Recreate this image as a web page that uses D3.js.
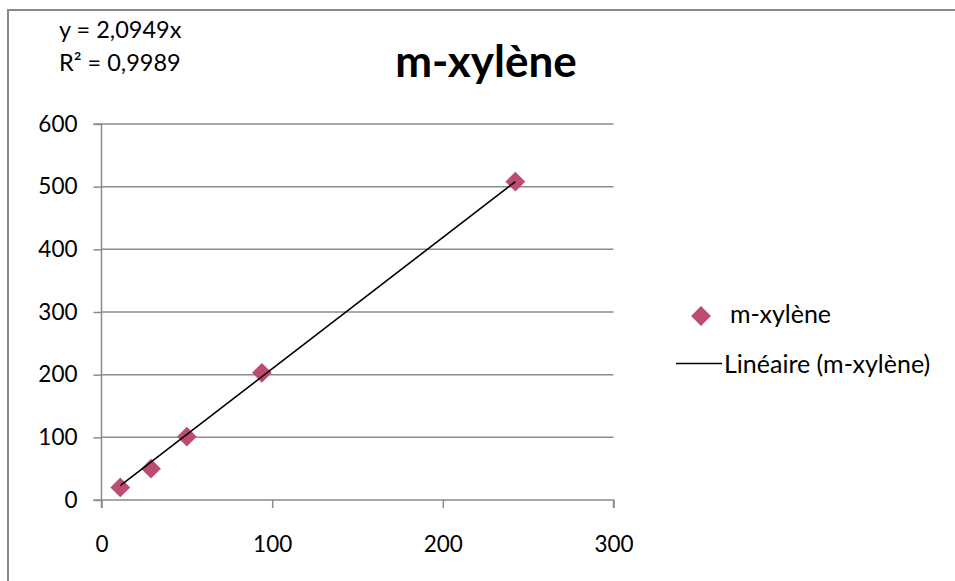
<!DOCTYPE html>
<html><head><meta charset="utf-8">
<script src="https://cdn.jsdelivr.net/npm/d3@7"></script>
<style>body{margin:0;background:#fff}svg{display:block}text{font-family:Lato,"Open Sans",sans-serif;fill:#000}</style>
</head><body><svg id="c" width="955" height="581"></svg>
<script>
const xValues = [11, 29, 50, 94, 242.5];
const yValues = [20, 50, 101, 203, 508];
const slope = 2.0949;
const xTicks = [0, 100, 200, 300];
const yTicks = [0, 100, 200, 300, 400, 500, 600];
const seriesName = "m-xylène";
const trendName = "Linéaire (m-xylène)";
const eqLines = ["y = 2,0949x", "R² = 0,9989"];

const svg = d3.select("#c");
svg.append("rect").attr("x",8).attr("y",10).attr("width",960).attr("height",600)
  .attr("fill","#fff").attr("stroke","#888").attr("stroke-width",2);

const x = d3.scaleLinear().domain([0,300]).range([101.5,613.5]);
const y = d3.scaleLinear().domain([0,600]).range([500,124]);

svg.append("g").selectAll("line").data(yTicks.filter(d=>d>0)).join("line")
  .attr("x1",x(0)).attr("x2",x(300)).attr("y1",d=>y(d)).attr("y2",d=>y(d))
  .attr("stroke","#8c8c8c").attr("stroke-width",1.5);

const fmt = d3.format("d");
const ya = svg.append("g").attr("transform",`translate(${x(0)},0)`)
  .call(d3.axisLeft(y).tickValues(yTicks).tickSize(8).tickPadding(16).tickFormat(fmt));
const xa = svg.append("g").attr("transform",`translate(0,${y(0)})`)
  .call(d3.axisBottom(x).tickValues(xTicks).tickSize(8).tickPadding(28).tickFormat(fmt));
[ya,xa].forEach(a=>{
  a.select(".domain").attr("stroke","#8c8c8c").attr("stroke-width",1.5);
  a.selectAll(".tick line").attr("stroke","#8c8c8c").attr("stroke-width",1.5);
  a.selectAll("text").style("font-family","Lato, sans-serif").style("font-size","22.5px").attr("fill","#000");
});
ya.select(".domain").attr("d",`M-8,${y(0)}H0V${y(600)}H-8`);
xa.select(".domain").attr("d",`M${x(0)},8V0H${x(300)}V8`);

const sym = d3.symbol().type(d3.symbolDiamond2).size(250);
svg.append("g").selectAll("path").data(xValues.map((v,i)=>[v,yValues[i]])).join("path")
  .attr("d",sym).attr("transform",d=>`translate(${x(d[0])},${y(d[1])})`).attr("fill","#be4b72");

const xmin = d3.min(xValues), xmax = d3.max(xValues);
svg.append("line").attr("x1",x(xmin)).attr("y1",y(slope*xmin)).attr("x2",x(xmax)).attr("y2",y(slope*xmax))
  .attr("stroke","#000").attr("stroke-width",1.6);

svg.append("text").attr("x",486).attr("y",77).attr("text-anchor","middle")
  .style("font-size","44px").style("font-weight","bold").text(seriesName);

eqLines.forEach((t,i)=>svg.append("text").attr("x",59).attr("y",38+i*33).style("font-size","23.5px").text(t));

svg.append("path").attr("d",sym).attr("transform","translate(701,316)").attr("fill","#be4b72");
svg.append("text").attr("x",730).attr("y",323).style("font-size","25px").text(seriesName);
svg.append("line").attr("x1",676).attr("x2",722).attr("y1",363.5).attr("y2",363.5).attr("stroke","#000").attr("stroke-width",1.6);
svg.append("text").attr("x",724).attr("y",373).style("font-size","25px").text(trendName);
</script></body></html>
